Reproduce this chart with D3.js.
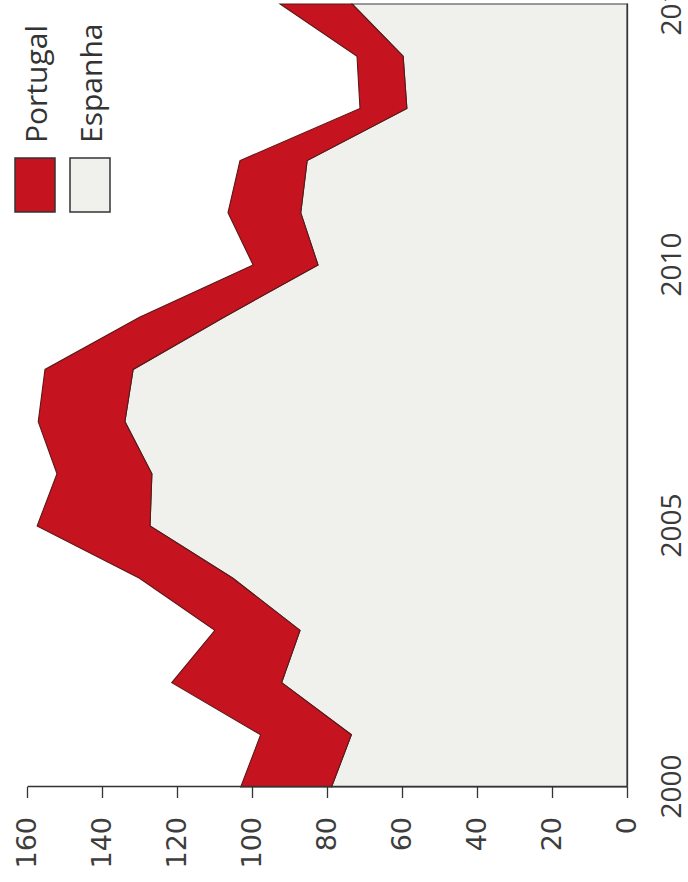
<!DOCTYPE html>
<html>
<head>
<meta charset="utf-8">
<script src="https://cdn.jsdelivr.net/npm/d3@7"></script>
<style>
  html, body { margin: 0; padding: 0; background: #ffffff; }
  svg { display: block; }
</style>
</head>
<body>
<script>
// ---- data ----
const years = [2000, 2001, 2002, 2003, 2004, 2005, 2006, 2007, 2008, 2009, 2010, 2011, 2012, 2013, 2014, 2015];
// Espanha (bottom layer)
const espanha = [78.8, 73.5, 92.1, 87.2, 105.1, 127.2, 126.7, 133.9, 131.7, 107.5, 82.4, 87.0, 85.3, 58.7, 59.7, 73.3];
// Portugal (stacked on top of Espanha)
const portugal = [24.2, 24.2, 29.3, 22.7, 24.9, 30.1, 25.3, 23.1, 23.5, 22.5, 17.3, 19.4, 17.9, 12.5, 12.3, 19.2];
const seriesNames = ["Espanha", "Portugal"];
const valueTicks = [0, 20, 40, 60, 80, 100, 120, 140, 160];
const yearTicks = [2000, 2005, 2010, 2015];
const colors = { Portugal: "#c5131f", Espanha: "#f0f1ed" };
const strokes = { Portugal: "#5e1717", Espanha: "#3a3a3a" };

// ---- layout ----
const W = 688, H = 882;
const plotLen = 783;   // length of the year axis
const plotDepth = 600; // length of the value axis

const svg = d3.select("body").append("svg")
  .attr("width", W).attr("height", H);

// The whole chart is turned a quarter turn counter-clockwise
const g = svg.append("g").attr("transform", "translate(27,787) rotate(-90)");

const x = d3.scaleLinear().domain([2000, 2015]).range([0, plotLen]);
const y = d3.scaleLinear().domain([0, 160]).range([plotDepth, 0]);

const table = years.map((yr, i) => ({ year: yr, Espanha: espanha[i], Portugal: portugal[i] }));
const stacked = d3.stack().keys(seriesNames)(table);

const area = d3.area()
  .x(d => x(d.data.year))
  .y0(d => y(d[0]))
  .y1(d => y(d[1]));

g.selectAll("path.layer")
  .data(stacked)
  .join("path")
  .attr("class", "layer")
  .attr("d", area)
  .attr("fill", d => colors[d.key])
  .attr("stroke", d => strokes[d.key])
  .attr("stroke-width", 1.1)
  .attr("stroke-linejoin", "miter");

// value axis (appears horizontal at the bottom)
const vAxis = g.append("g")
  .call(d3.axisLeft(y).tickValues(valueTicks).tickSize(11).tickSizeOuter(0).tickPadding(19));
vAxis.selectAll("path, line").attr("stroke", "#333").attr("stroke-width", 1.3);
vAxis.selectAll("text")
  .attr("font-family", "DejaVu Sans, sans-serif")
  .attr("font-size", 27)
  .attr("fill", "#3d3d3d");

// year axis (appears vertical on the right)
const yAxis = g.append("g")
  .attr("transform", `translate(0,${plotDepth})`)
  .call(d3.axisBottom(x).tickValues(yearTicks).tickFormat(d3.format("d")).tickSize(0).tickSizeOuter(0).tickPadding(34));
yAxis.selectAll("path").attr("stroke", "#333").attr("stroke-width", 1.3);
yAxis.selectAll("text")
  .attr("font-family", "Open Sans, sans-serif")
  .attr("font-size", 28)
  .attr("fill", "#3a3a3a");

// legend
const legendItems = ["Portugal", "Espanha"];
const leg = svg.append("g");
legendItems.forEach((name, i) => {
  const cx = 35 + i * 55;
  leg.append("rect")
    .attr("x", cx - 20).attr("y", 158)
    .attr("width", 40).attr("height", 54)
    .attr("fill", colors[name])
    .attr("stroke", "#333").attr("stroke-width", 1.5);
  leg.append("text")
    .attr("transform", `translate(${cx + 12},143) rotate(-90)`)
    .attr("text-anchor", "start")
    .attr("font-family", "Open Sans, sans-serif")
    .attr("font-size", 30)
    .attr("fill", "#333")
    .text(name);
});
</script>
</body>
</html>
